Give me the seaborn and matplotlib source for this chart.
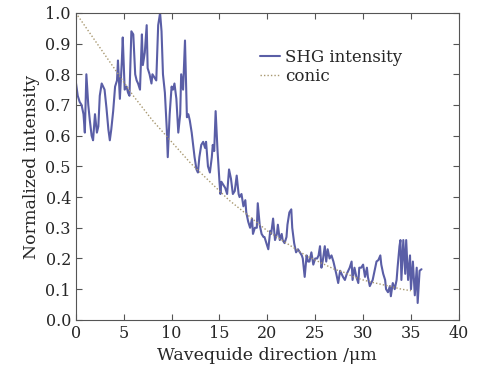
import matplotlib
matplotlib.use("Agg")
import matplotlib.pyplot as plt
import seaborn as sns

# SHG intensity
shg_x = [0.0, 0.2, 0.4, 0.6, 0.8, 0.94, 1.1, 1.3, 1.46, 1.65, 1.8, 2.0, 2.2, 2.35, 2.5, 2.7, 2.85, 3.0,
         3.2, 3.4, 3.55, 3.7, 3.9, 4.1, 4.3, 4.4, 4.6, 4.8, 4.9, 5.1, 5.3, 5.45, 5.6, 5.8, 6.0, 6.2,
         6.35, 6.5, 6.7, 6.9, 7.0, 7.2, 7.4, 7.5, 7.7, 7.9, 8.0, 8.2, 8.4, 8.6, 8.8, 8.95, 9.1, 9.3,
         9.5, 9.6, 9.8, 10.0, 10.15, 10.3, 10.5, 10.7, 10.9, 11.0, 11.2, 11.4, 11.6, 11.75, 11.9, 12.1,
         12.4, 12.6, 12.75, 12.9, 13.1, 13.3, 13.5, 13.6, 13.8, 14.0, 14.2, 14.3, 14.45, 14.6, 14.8,
         15.0, 15.1, 15.2, 15.4, 15.6, 15.8, 16.0, 16.2, 16.4, 16.6, 16.8, 17.0, 17.1, 17.3, 17.5,
         17.7, 17.8, 18.0, 18.2, 18.4, 18.5, 18.7, 18.9, 19.0, 19.2, 19.4, 19.6, 19.7, 19.9, 20.1,
         20.3, 20.4, 20.6, 20.8, 21.0, 21.1, 21.3, 21.5, 21.6, 21.8, 22.0, 22.1, 22.3, 22.5, 22.6,
         22.8, 23.0, 23.2, 23.4, 23.6, 23.7, 23.9, 24.1, 24.25, 24.4, 24.6, 24.8, 25.0, 25.2, 25.35,
         25.5, 25.65, 25.8, 26.0, 26.15, 26.3, 26.5, 26.7, 26.9, 27.05, 27.2, 27.4, 27.6, 27.75, 27.9,
         28.1, 28.3, 28.45, 28.6, 28.8, 28.9, 29.1, 29.3, 29.5, 29.6, 29.8, 30.0, 30.2, 30.4, 30.5,
         30.7, 30.85, 31.0, 31.2, 31.4, 31.6, 31.8, 31.9, 32.1, 32.3, 32.4, 32.6, 32.8, 32.9, 33.1,
         33.3, 33.5, 33.6, 33.8, 33.9, 34.0, 34.2, 34.4, 34.5, 34.7, 34.9, 35.0, 35.2, 35.4, 35.6,
         35.7, 35.9, 36.1]
shg_y = [0.775, 0.73, 0.71, 0.70, 0.67, 0.61, 0.80, 0.70, 0.65, 0.60, 0.585, 0.67, 0.61, 0.63, 0.73, 0.77, 0.76, 0.75,
         0.69, 0.62, 0.585, 0.62, 0.68, 0.76, 0.78, 0.845, 0.72, 0.84, 0.92, 0.75, 0.76, 0.74, 0.73, 0.94, 0.93, 0.80,
         0.78, 0.77, 0.75, 0.93, 0.83, 0.87, 0.96, 0.82, 0.80, 0.77, 0.80, 0.79, 0.78, 0.96, 1.00, 0.94, 0.80, 0.74,
         0.62, 0.53, 0.67, 0.76, 0.75, 0.77, 0.72, 0.61, 0.67, 0.80, 0.75, 0.91, 0.66, 0.67, 0.65, 0.61,
         0.53, 0.49, 0.48, 0.53, 0.57, 0.58, 0.56, 0.58, 0.50, 0.48, 0.53, 0.57, 0.55, 0.68, 0.55,
         0.45, 0.41, 0.45, 0.44, 0.43, 0.41, 0.49, 0.46, 0.41, 0.42, 0.47, 0.41, 0.40, 0.41, 0.37,
         0.39, 0.35, 0.32, 0.30, 0.33, 0.28, 0.30, 0.30, 0.38, 0.31, 0.28, 0.27, 0.27, 0.25, 0.23,
         0.29, 0.28, 0.33, 0.26, 0.28, 0.31, 0.26, 0.28, 0.26, 0.25, 0.27, 0.31, 0.35, 0.36, 0.30,
         0.25, 0.22, 0.23, 0.22, 0.21, 0.20, 0.14, 0.21, 0.19, 0.19, 0.22, 0.18, 0.20, 0.20, 0.21,
         0.24, 0.17, 0.195, 0.24, 0.19, 0.23, 0.20, 0.21, 0.19, 0.17, 0.15, 0.12, 0.16, 0.15, 0.14,
         0.13, 0.15, 0.16, 0.17, 0.19, 0.13, 0.17, 0.14, 0.12, 0.17, 0.17, 0.18, 0.14, 0.17, 0.14,
         0.11, 0.12, 0.13, 0.16, 0.19, 0.195, 0.21, 0.18, 0.15, 0.13, 0.10, 0.09, 0.11, 0.077, 0.12,
         0.10, 0.13, 0.17, 0.24, 0.26, 0.13, 0.26, 0.15, 0.26, 0.13, 0.21, 0.10, 0.19, 0.08, 0.17,
         0.055, 0.16, 0.165]

# conic fit curve
conic_x = list(range(0, 36))
conic_y = [1.00, 0.955, 0.91, 0.865, 0.82, 0.775, 0.73, 0.69, 0.65, 0.615, 0.58, 0.545, 0.51, 0.48,
           0.45, 0.42, 0.39, 0.365, 0.34, 0.315, 0.29, 0.27, 0.25, 0.23, 0.21, 0.195, 0.18, 0.165,
           0.155, 0.14, 0.13, 0.122, 0.115, 0.108, 0.10, 0.095]

sns.set_style("ticks")
plt.rcParams["font.family"] = ["DejaVu Serif"]

fig = plt.figure(figsize=(4.83, 3.79), dpi=100)
ax = fig.add_axes([0.157, 0.156, 0.793, 0.81])

sns.lineplot(x=shg_x, y=shg_y, ax=ax, color="#5a5ea6", linewidth=1.5, label="SHG intensity")
sns.lineplot(x=conic_x, y=conic_y, ax=ax, color="#a89870", linewidth=1.0,
             linestyle=(0, (1, 1.5)), label="conic")

ax.set_xlim(0, 40)
ax.set_ylim(0, 1.0)
ax.set_xticks(range(0, 41, 5))
ax.set_yticks([i / 10 for i in range(11)])
ax.set_yticklabels([f"{i / 10:.1f}" for i in range(11)])
ax.tick_params(direction="in", top=True, right=True, labelsize=11.5, length=4, color="#555555")
for s in ax.spines.values():
    s.set_color("#555555")
    s.set_linewidth(0.8)

ax.set_xlabel("Wavequide direction /\u03bcm", fontsize=12.5)
ax.set_ylabel("Normalized intensity", fontsize=12.5)

ax.legend(loc="upper right", bbox_to_anchor=(0.87, 0.905), frameon=False, fontsize=12,
          handlelength=1.2, handletextpad=0.3, labelspacing=0.15, borderaxespad=0)

fig.savefig("out.png", dpi=100)
